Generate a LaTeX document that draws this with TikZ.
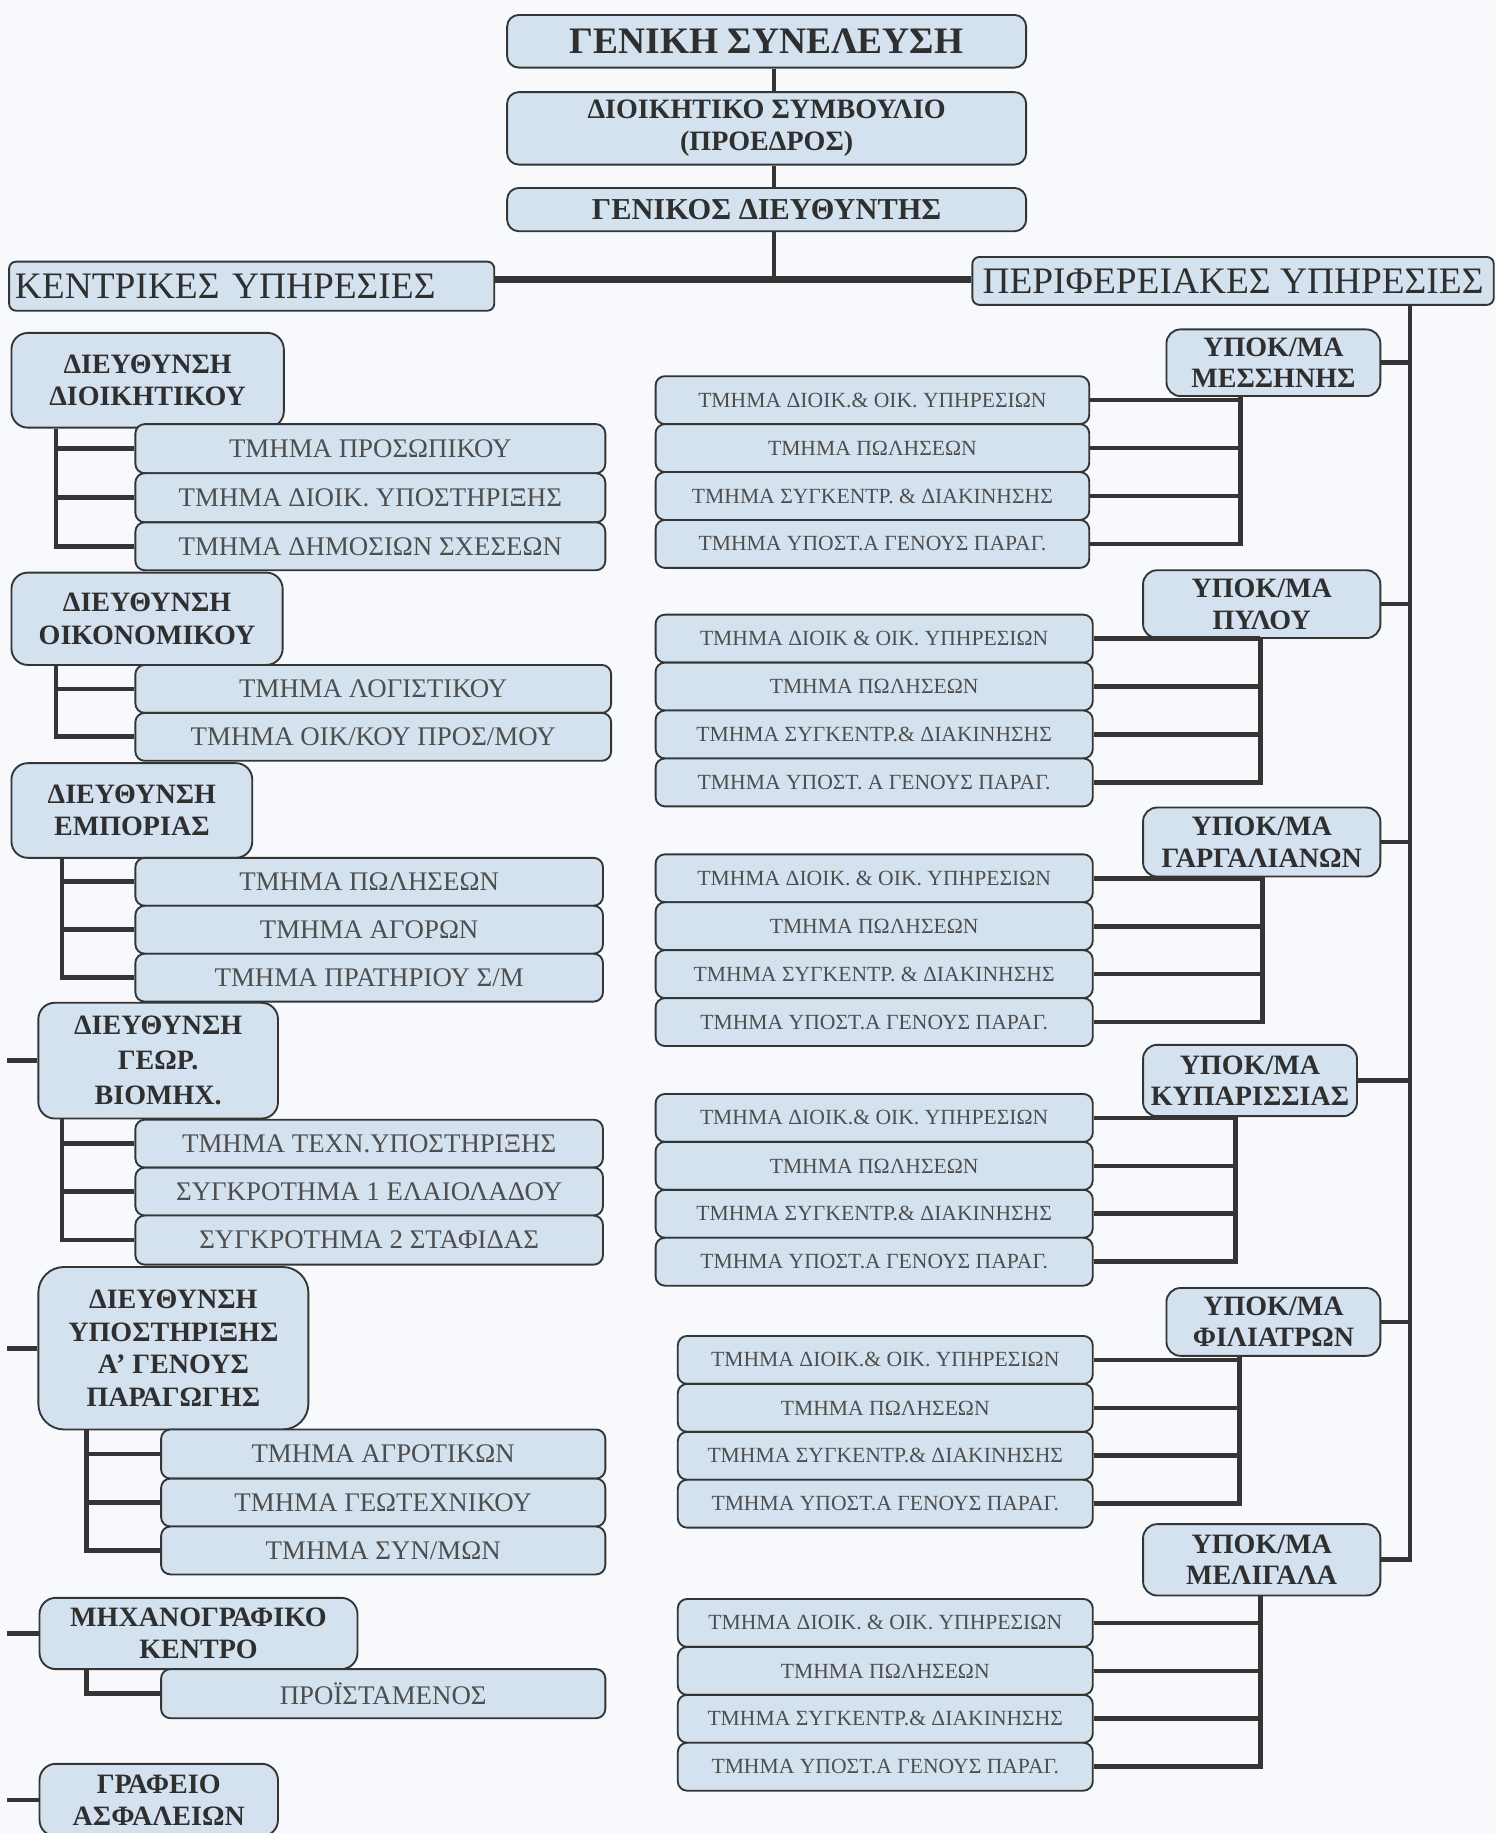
\documentclass[tikz,border=0pt]{standalone}
\usepackage{fontspec}
\setmainfont{Liberation Serif}
\definecolor{bg}{HTML}{F7F9FC}
\definecolor{boxc}{HTML}{D4E2F0}
\definecolor{linec}{HTML}{353535}
\definecolor{txtb}{HTML}{2F2F2F}
\definecolor{txtr}{HTML}{4E4E4E}
\newcommand\fsz[2]{\fontsize{#1}{#2}\selectfont}
% right-hand group of four department boxes
\newcommand\rgrp[8]{%
  \node[rsub, minimum width=#4pt] (#1a) at (#2,#3) {#5};
  \node[rsub, minimum width=#4pt] (#1b) at (#2,#3+41) {#6};
  \node[rsub, minimum width=#4pt] (#1c) at (#2,#3+82) {#7};
  \node[rsub, minimum width=#4pt] (#1d) at (#2,#3+123) {#8};
}
\newcommand\rlink[3]{%
  \coordinate (#2x) at (#3,0);
  \draw[conn] (#1.south -| #2x) -- (#2x |- #2d.east) -- (#2d.east);
  \draw[conn] (#2a.east) -- (#2a.east -| #2x);
  \draw[conn] (#2b.east) -- (#2b.east -| #2x);
  \draw[conn] (#2c.east) -- (#2c.east -| #2x);
}
\begin{document}
\begin{tikzpicture}[x=1pt,y=-1pt,
  bx/.style={draw=linec, line width=1.6pt, fill=boxc, rounded corners=#1,
    anchor=north west, inner sep=0pt, align=center, text=txtb},
  bx/.default=10pt,
  conn/.style={draw=linec, line width=4pt},
  rsub/.style={bx=8pt, minimum height=41pt, font=\fsz{18.5}{20}, text=txtr},
  lsub/.style={bx=8pt, font=\fsz{23}{25}, text=txtr},
  dirb/.style={bx=14pt, font=\fsz{24}{28}\bfseries},
  ypk/.style={bx=12pt, font=\fsz{24}{27}\bfseries},
]
\fill[bg] (0,0) rectangle (1280,1568);
\useasboundingbox (0,0) rectangle (1280,1568);
\clip (0,0) rectangle (1280,1568);

% ---------------- top ----------------
\node[bx, minimum width=444pt, minimum height=45pt, font=\fsz{32}{36}\bfseries] (GS) at (433,12) {ΓΕΝΙΚΗ ΣΥΝΕΛΕΥΣΗ};
\node[bx, minimum width=444pt, minimum height=62pt, font=\fsz{24}{27}\bfseries] (DS) at (433,78) {ΔΙΟΙΚΗΤΙΚΟ ΣΥΜΒΟΥΛΙΟ\\(ΠΡΟΕΔΡΟΣ)};
\node[bx, minimum width=444pt, minimum height=37pt, font=\fsz{26}{30}\bfseries] (GD) at (433,160) {ΓΕΝΙΚΟΣ ΔΙΕΥΘΥΝΤΗΣ};
\node[bx=6pt, minimum height=42pt, text width=405pt, inner xsep=5pt, align=left, font=\fsz{32}{36}] (KY) at (7,223) {ΚΕΝΤΡΙΚΕΣ ΥΠΗΡΕΣΙΕΣ};
\node[bx=6pt, minimum width=446pt, minimum height=41pt, font=\fsz{32}{36}] (PY) at (831,219) {ΠΕΡΙΦΕΡΕΙΑΚΕΣ ΥΠΗΡΕΣΙΕΣ};

\coordinate (vx) at (662,0);
\coordinate (hy) at (0,239);
\draw[conn, line width=3pt] (GS.south -| vx) -- (DS.north -| vx);
\draw[conn, line width=3pt] (DS.south -| vx) -- (GD.north -| vx);
\draw[conn, line width=3pt] (GD.south -| vx) -- (vx |- hy);
\draw[conn, line width=5.5pt] (KY.east |- hy) -- (PY.west |- hy);

% ---------------- left: central services ----------------
\node[dirb, minimum width=233pt, minimum height=81pt] (D1) at (9,284) {ΔΙΕΥΘΥΝΣΗ\\ΔΙΟΙΚΗΤΙΚΟΥ};
\node[lsub, minimum width=402pt, minimum height=42pt] (D1a) at (115,362) {ΤΜΗΜΑ ΠΡΟΣΩΠΙΚΟΥ};
\node[lsub, minimum width=402pt, minimum height=42pt] (D1b) at (115,404) {ΤΜΗΜΑ ΔΙΟΙΚ. ΥΠΟΣΤΗΡΙΞΗΣ};
\node[lsub, minimum width=402pt, minimum height=41pt] (D1c) at (115,446) {ΤΜΗΜΑ ΔΗΜΟΣΙΩΝ ΣΧΕΣΕΩΝ};

\node[dirb, minimum width=232pt, minimum height=79pt] (D2) at (9,489) {ΔΙΕΥΘΥΝΣΗ\\ΟΙΚΟΝΟΜΙΚΟΥ};
\node[lsub, minimum width=407pt, minimum height=41pt] (D2a) at (115,568) {ΤΜΗΜΑ ΛΟΓΙΣΤΙΚΟΥ};
\node[lsub, minimum width=407pt, minimum height=41pt] (D2b) at (115,609) {ΤΜΗΜΑ ΟΙΚ/ΚΟΥ ΠΡΟΣ/ΜΟΥ};

\node[dirb, minimum width=206pt, minimum height=81pt] (D3) at (9,652) {ΔΙΕΥΘΥΝΣΗ\\ΕΜΠΟΡΙΑΣ};
\node[lsub, minimum width=400pt, minimum height=41pt] (D3a) at (115,733) {ΤΜΗΜΑ ΠΩΛΗΣΕΩΝ};
\node[lsub, minimum width=400pt, minimum height=41pt] (D3b) at (115,774) {ΤΜΗΜΑ ΑΓΟΡΩΝ};
\node[lsub, minimum width=400pt, minimum height=41pt] (D3c) at (115,815) {ΤΜΗΜΑ ΠΡΑΤΗΡΙΟΥ Σ/Μ};

\node[dirb, minimum width=205pt, minimum height=99pt, font=\fsz{24}{30}\bfseries] (D4) at (32,857) {ΔΙΕΥΘΥΝΣΗ\\ΓΕΩΡ.\\ΒΙΟΜΗΧ.};
\node[lsub, minimum width=400pt, minimum height=41pt] (D4a) at (115,957) {ΤΜΗΜΑ ΤΕΧΝ.ΥΠΟΣΤΗΡΙΞΗΣ};
\node[lsub, minimum width=400pt, minimum height=41pt] (D4b) at (115,998) {ΣΥΓΚΡΟΤΗΜΑ 1 ΕΛΑΙΟΛΑΔΟΥ};
\node[lsub, minimum width=400pt, minimum height=42pt] (D4c) at (115,1039) {ΣΥΓΚΡΟΤΗΜΑ 2 ΣΤΑΦΙΔΑΣ};

\node[dirb, minimum width=231pt, minimum height=139pt, rounded corners=22pt] (D5) at (32,1083) {ΔΙΕΥΘΥΝΣΗ\\ΥΠΟΣΤΗΡΙΞΗΣ\\Α’ ΓΕΝΟΥΣ\\ΠΑΡΑΓΩΓΗΣ};
\node[lsub, minimum width=380pt, minimum height=42pt] (D5a) at (137,1222) {ΤΜΗΜΑ ΑΓΡΟΤΙΚΩΝ};
\node[lsub, minimum width=380pt, minimum height=41pt] (D5b) at (137,1264) {ΤΜΗΜΑ ΓΕΩΤΕΧΝΙΚΟΥ};
\node[lsub, minimum width=380pt, minimum height=41pt] (D5c) at (137,1305) {ΤΜΗΜΑ ΣΥΝ/ΜΩΝ};

\node[dirb, minimum width=272pt, minimum height=61pt, font=\fsz{24}{27}\bfseries] (D6) at (33,1366) {ΜΗΧΑΝΟΓΡΑΦΙΚΟ\\ΚΕΝΤΡΟ};
\node[lsub, minimum width=380pt, minimum height=42pt] (D6a) at (137,1427) {ΠΡΟΪΣΤΑΜΕΝΟΣ};

\node[dirb, minimum width=204pt, minimum height=62pt, font=\fsz{24}{27}\bfseries] (D7) at (33,1508) {ΓΡΑΦΕΙΟ\\ΑΣΦΑΛΕΙΩΝ};

% left branches
\coordinate (b1) at (48,0);
\draw[conn] (D1.south -| b1) -- (b1 |- D1c.west) -- (D1c.west);
\draw[conn] (D1a.west) -- (D1a.west -| b1);
\draw[conn] (D1b.west) -- (D1b.west -| b1);
\coordinate (b2) at (48,0);
\draw[conn] (D2.south -| b2) -- (b2 |- D2b.west) -- (D2b.west);
\draw[conn] (D2a.west) -- (D2a.west -| b2);
\coordinate (b3) at (53,0);
\draw[conn] (D3.south -| b3) -- (b3 |- D3c.west) -- (D3c.west);
\draw[conn] (D3a.west) -- (D3a.west -| b3);
\draw[conn] (D3b.west) -- (D3b.west -| b3);
\coordinate (b4) at (53,0);
\draw[conn] (D4.south -| b4) -- (b4 |- D4c.west) -- (D4c.west);
\draw[conn] (D4a.west) -- (D4a.west -| b4);
\draw[conn] (D4b.west) -- (D4b.west -| b4);
\coordinate (b5) at (74,0);
\draw[conn] (D5.south -| b5) -- (b5 |- D5c.west) -- (D5c.west);
\draw[conn] (D5a.west) -- (D5a.west -| b5);
\draw[conn] (D5b.west) -- (D5b.west -| b5);
\coordinate (b6) at (74,0);
\draw[conn] (D6.south -| b6) -- (b6 |- D6a.west) -- (D6a.west);

% stubs to the (off-page) left trunk
\coordinate (lft) at (6,0);
\draw[conn] (D4.west) -- (D4.west -| lft);
\draw[conn] (D5.west) -- (D5.west -| lft);
\draw[conn] (D6.west) -- (D6.west -| lft);
\draw[conn] (D7.west) -- (D7.west -| lft);

% ---------------- right: regional services ----------------
\node[ypk, minimum width=183pt, minimum height=57pt] (Y1) at (997,281) {ΥΠΟΚ/ΜΑ\\ΜΕΣΣΗΝΗΣ};
\node[ypk, minimum width=203pt, minimum height=58pt] (Y2) at (977,487) {ΥΠΟΚ/ΜΑ\\ΠΥΛΟΥ};
\node[ypk, minimum width=203pt, minimum height=59pt] (Y3) at (977,690) {ΥΠΟΚ/ΜΑ\\ΓΑΡΓΑΛΙΑΝΩΝ};
\node[ypk, minimum width=183pt, minimum height=61pt] (Y4) at (977,893) {ΥΠΟΚ/ΜΑ\\ΚΥΠΑΡΙΣΣΙΑΣ};
\node[ypk, minimum width=183pt, minimum height=58pt] (Y5) at (997,1101) {ΥΠΟΚ/ΜΑ\\ΦΙΛΙΑΤΡΩΝ};
\node[ypk, minimum width=203pt, minimum height=61pt] (Y6) at (977,1303) {ΥΠΟΚ/ΜΑ\\ΜΕΛΙΓΑΛΑ};

\rgrp{ms}{560}{321}{371}{ΤΜΗΜΑ ΔΙΟΙΚ.\& ΟΙΚ. ΥΠΗΡΕΣΙΩΝ}{ΤΜΗΜΑ ΠΩΛΗΣΕΩΝ}{ΤΜΗΜΑ ΣΥΓΚΕΝΤΡ. \& ΔΙΑΚΙΝΗΣΗΣ}{ΤΜΗΜΑ ΥΠΟΣΤ.Α ΓΕΝΟΥΣ ΠΑΡΑΓ.}
\rgrp{pl}{560}{525}{374}{ΤΜΗΜΑ ΔΙΟΙΚ \& ΟΙΚ. ΥΠΗΡΕΣΙΩΝ}{ΤΜΗΜΑ ΠΩΛΗΣΕΩΝ}{ΤΜΗΜΑ ΣΥΓΚΕΝΤΡ.\& ΔΙΑΚΙΝΗΣΗΣ}{ΤΜΗΜΑ ΥΠΟΣΤ. Α ΓΕΝΟΥΣ ΠΑΡΑΓ.}
\rgrp{gr}{560}{730}{374}{ΤΜΗΜΑ ΔΙΟΙΚ. \& ΟΙΚ. ΥΠΗΡΕΣΙΩΝ}{ΤΜΗΜΑ ΠΩΛΗΣΕΩΝ}{ΤΜΗΜΑ ΣΥΓΚΕΝΤΡ. \& ΔΙΑΚΙΝΗΣΗΣ}{ΤΜΗΜΑ ΥΠΟΣΤ.Α ΓΕΝΟΥΣ ΠΑΡΑΓ.}
\rgrp{kp}{560}{935}{374}{ΤΜΗΜΑ ΔΙΟΙΚ.\& ΟΙΚ. ΥΠΗΡΕΣΙΩΝ}{ΤΜΗΜΑ ΠΩΛΗΣΕΩΝ}{ΤΜΗΜΑ ΣΥΓΚΕΝΤΡ.\& ΔΙΑΚΙΝΗΣΗΣ}{ΤΜΗΜΑ ΥΠΟΣΤ.Α ΓΕΝΟΥΣ ΠΑΡΑΓ.}
\rgrp{fl}{579}{1142}{355}{ΤΜΗΜΑ ΔΙΟΙΚ.\& ΟΙΚ. ΥΠΗΡΕΣΙΩΝ}{ΤΜΗΜΑ ΠΩΛΗΣΕΩΝ}{ΤΜΗΜΑ ΣΥΓΚΕΝΤΡ.\& ΔΙΑΚΙΝΗΣΗΣ}{ΤΜΗΜΑ ΥΠΟΣΤ.Α ΓΕΝΟΥΣ ΠΑΡΑΓ.}
\rgrp{ml}{579}{1367}{355}{ΤΜΗΜΑ ΔΙΟΙΚ. \& ΟΙΚ. ΥΠΗΡΕΣΙΩΝ}{ΤΜΗΜΑ ΠΩΛΗΣΕΩΝ}{ΤΜΗΜΑ ΣΥΓΚΕΝΤΡ.\& ΔΙΑΚΙΝΗΣΗΣ}{ΤΜΗΜΑ ΥΠΟΣΤ.Α ΓΕΝΟΥΣ ΠΑΡΑΓ.}

\rlink{Y1}{ms}{1061}
\rlink{Y2}{pl}{1078}
\rlink{Y3}{gr}{1080}
\rlink{Y4}{kp}{1057}
\rlink{Y5}{fl}{1060}
\rlink{Y6}{ml}{1078}

% right trunk
\coordinate (tr) at (1206,0);
\draw[conn] (PY.south -| tr) -- (tr |- Y6.east) -- (Y6.east);
\draw[conn] (Y1.east) -- (Y1.east -| tr);
\draw[conn] (Y2.east) -- (Y2.east -| tr);
\draw[conn] (Y3.east) -- (Y3.east -| tr);
\draw[conn] (Y4.east) -- (Y4.east -| tr);
\draw[conn] (Y5.east) -- (Y5.east -| tr);
\end{tikzpicture}
\end{document}
